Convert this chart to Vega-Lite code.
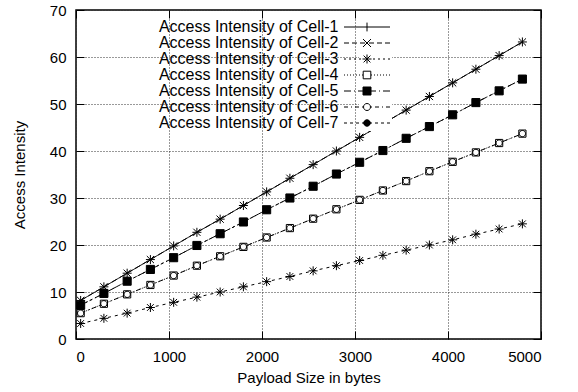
{
  "$schema": "https://vega.github.io/schema/vega-lite/v6.json",
  "width": 465,
  "height": 329,
  "autosize": {"type": "none"},
  "padding": {"left": 76, "top": 10, "right": 37, "bottom": 53},
  "background": "white",
  "config": {
    "font": "Liberation Sans",
    "view": {"stroke": "black", "strokeWidth": 1.5},
    "axis": {
      "labelFont": "Liberation Sans",
      "labelFontSize": 15,
      "labelColor": "black",
      "titleFont": "Liberation Sans",
      "titleFontSize": 15,
      "titleFontWeight": "normal",
      "titleColor": "black",
      "domain": false,
      "tickColor": "black",
      "tickSize": -8,
      "tickWidth": 1,
      "gridColor": "#333333",
      "gridDash": [1, 2],
      "gridWidth": 1,
      "gridOpacity": 1,
      "format": "d"
    }
  },
  "data": {
    "values": [
      {"bytes": 50, "Cell-1": 8.2, "Cell-2": 8.2, "Cell-3": 3.3, "Cell-4": 5.5, "Cell-5": 7.2, "Cell-6": 5.5, "Cell-7": 7.2},
      {"bytes": 300, "Cell-1": 11.1, "Cell-2": 11.1, "Cell-3": 4.4, "Cell-4": 7.5, "Cell-5": 9.7, "Cell-6": 7.5, "Cell-7": 9.7},
      {"bytes": 550, "Cell-1": 14.0, "Cell-2": 14.0, "Cell-3": 5.5, "Cell-4": 9.5, "Cell-5": 12.3, "Cell-6": 9.5, "Cell-7": 12.3},
      {"bytes": 800, "Cell-1": 16.9, "Cell-2": 16.9, "Cell-3": 6.7, "Cell-4": 11.5, "Cell-5": 14.8, "Cell-6": 11.5, "Cell-7": 14.8},
      {"bytes": 1050, "Cell-1": 19.8, "Cell-2": 19.8, "Cell-3": 7.8, "Cell-4": 13.5, "Cell-5": 17.3, "Cell-6": 13.5, "Cell-7": 17.3},
      {"bytes": 1300, "Cell-1": 22.7, "Cell-2": 22.7, "Cell-3": 8.9, "Cell-4": 15.6, "Cell-5": 19.9, "Cell-6": 15.6, "Cell-7": 19.9},
      {"bytes": 1550, "Cell-1": 25.5, "Cell-2": 25.5, "Cell-3": 10.0, "Cell-4": 17.6, "Cell-5": 22.4, "Cell-6": 17.6, "Cell-7": 22.4},
      {"bytes": 1800, "Cell-1": 28.4, "Cell-2": 28.4, "Cell-3": 11.1, "Cell-4": 19.6, "Cell-5": 24.9, "Cell-6": 19.6, "Cell-7": 24.9},
      {"bytes": 2050, "Cell-1": 31.3, "Cell-2": 31.3, "Cell-3": 12.2, "Cell-4": 21.6, "Cell-5": 27.5, "Cell-6": 21.6, "Cell-7": 27.5},
      {"bytes": 2300, "Cell-1": 34.2, "Cell-2": 34.2, "Cell-3": 13.3, "Cell-4": 23.6, "Cell-5": 30.0, "Cell-6": 23.6, "Cell-7": 30.0},
      {"bytes": 2550, "Cell-1": 37.1, "Cell-2": 37.1, "Cell-3": 14.5, "Cell-4": 25.6, "Cell-5": 32.5, "Cell-6": 25.6, "Cell-7": 32.5},
      {"bytes": 2800, "Cell-1": 40.0, "Cell-2": 40.0, "Cell-3": 15.6, "Cell-4": 27.6, "Cell-5": 35.1, "Cell-6": 27.6, "Cell-7": 35.1},
      {"bytes": 3050, "Cell-1": 42.9, "Cell-2": 42.9, "Cell-3": 16.7, "Cell-4": 29.6, "Cell-5": 37.6, "Cell-6": 29.6, "Cell-7": 37.6},
      {"bytes": 3300, "Cell-1": 45.8, "Cell-2": 45.8, "Cell-3": 17.8, "Cell-4": 31.6, "Cell-5": 40.1, "Cell-6": 31.6, "Cell-7": 40.1},
      {"bytes": 3550, "Cell-1": 48.7, "Cell-2": 48.7, "Cell-3": 18.9, "Cell-4": 33.6, "Cell-5": 42.7, "Cell-6": 33.6, "Cell-7": 42.7},
      {"bytes": 3800, "Cell-1": 51.6, "Cell-2": 51.6, "Cell-3": 20.0, "Cell-4": 35.7, "Cell-5": 45.2, "Cell-6": 35.7, "Cell-7": 45.2},
      {"bytes": 4050, "Cell-1": 54.5, "Cell-2": 54.5, "Cell-3": 21.1, "Cell-4": 37.7, "Cell-5": 47.7, "Cell-6": 37.7, "Cell-7": 47.7},
      {"bytes": 4300, "Cell-1": 57.4, "Cell-2": 57.4, "Cell-3": 22.3, "Cell-4": 39.7, "Cell-5": 50.3, "Cell-6": 39.7, "Cell-7": 50.3},
      {"bytes": 4550, "Cell-1": 60.3, "Cell-2": 60.3, "Cell-3": 23.4, "Cell-4": 41.7, "Cell-5": 52.8, "Cell-6": 41.7, "Cell-7": 52.8},
      {"bytes": 4800, "Cell-1": 63.2, "Cell-2": 63.2, "Cell-3": 24.5, "Cell-4": 43.7, "Cell-5": 55.3, "Cell-6": 43.7, "Cell-7": 55.3}
    ]
  },
  "transform": [
    {"fold": ["Cell-1", "Cell-2", "Cell-3", "Cell-4", "Cell-5", "Cell-6", "Cell-7"], "as": ["series", "intensity"]}
  ],
  "layer": [
    {
      "mark": {"type": "line", "color": "black", "strokeWidth": 1},
      "encoding": {
        "x": {
          "field": "bytes", "type": "quantitative",
          "scale": {"domain": [0, 5000], "nice": false, "zero": false},
          "axis": {"orient": "bottom", "values": [0, 1000, 2000, 3000, 4000, 5000], "grid": true, "labelPadding": 18, "title": "Payload Size in bytes", "titlePadding": 6}
        },
        "y": {
          "field": "intensity", "type": "quantitative",
          "scale": {"domain": [0, 70], "nice": false},
          "axis": {"orient": "left", "values": [0, 10, 20, 30, 40, 50, 60, 70], "grid": true, "labelPadding": 18, "title": "Access Intensity", "titlePadding": 22}
        },
        "strokeDash": {
          "field": "series", "type": "nominal", "legend": null,
          "scale": {
            "domain": ["Cell-1", "Cell-2", "Cell-3", "Cell-4", "Cell-5", "Cell-6", "Cell-7"],
            "range": [[1, 0], [6, 3], [3, 4], [1, 2], [8, 3, 2, 3], [5, 3, 1, 3], [3, 3, 1, 3]]
          }
        }
      }
    },
    {
      "mark": {"type": "point", "stroke": "black", "strokeWidth": 1, "opacity": 1, "size": 81},
      "encoding": {
        "x": {
          "field": "bytes", "type": "quantitative",
          "axis": {"orient": "top", "values": [0, 1000, 2000, 3000, 4000, 5000], "grid": false, "labels": false, "title": null}
        },
        "y": {
          "field": "intensity", "type": "quantitative",
          "axis": {"orient": "right", "values": [0, 10, 20, 30, 40, 50, 60, 70], "grid": false, "labels": false, "title": null}
        },
        "shape": {
          "field": "series", "type": "nominal", "legend": null,
          "scale": {
            "domain": ["Cell-1", "Cell-2", "Cell-3", "Cell-4", "Cell-5", "Cell-6", "Cell-7"],
            "range": [
              "M-1,0H1M0,-1V1",
              "M-0.8,-0.8L0.8,0.8M-0.8,0.8L0.8,-0.8",
              "M-1,0H1M0,-1V1M-0.75,-0.75L0.75,0.75M-0.75,0.75L0.75,-0.75",
              "M-0.8,-0.8H0.8V0.8H-0.8Z",
              "M-0.9,-0.9H0.9V0.9H-0.9Z",
              "M0.7,0A0.7,0.7 0 1,1 -0.7,0A0.7,0.7 0 1,1 0.7,0Z",
              "M0.7,0A0.7,0.7 0 1,1 -0.7,0A0.7,0.7 0 1,1 0.7,0Z"
            ]
          }
        },
        "fill": {
          "field": "series", "type": "nominal", "legend": null,
          "scale": {
            "domain": ["Cell-1", "Cell-2", "Cell-3", "Cell-4", "Cell-5", "Cell-6", "Cell-7"],
            "range": ["transparent", "transparent", "transparent", "white", "black", "transparent", "black"]
          }
        }
      }
    },
    {
      "mark": {"type": "point", "opacity": 0, "size": 64},
      "encoding": {
        "x": {"field": "bytes", "type": "quantitative", "axis": null},
        "y": {"field": "intensity", "type": "quantitative", "axis": null},
        "shape": {
          "field": "series", "type": "nominal",
          "scale": {
            "domain": ["Cell-1", "Cell-2", "Cell-3", "Cell-4", "Cell-5", "Cell-6", "Cell-7"],
            "range": [
              "M-68,0M-5.75,0H5.75M0,-1.1V1.1",
              "M-5.75,0H-4.5M-3.75,0H-2.5M-1.75,0H-0.5M0.5,0H1.75M2.5,0H3.75M4.5,0H5.75M-1,-1L1,1M-1,1L1,-1",
              "M-5.75,0H-5.25M-4.5,0H-4M-3.25,0H-2.75M-2,0H-1.5M1.5,0H2M2.75,0H3.25M4,0H4.5M5.25,0H5.75M-1.125,0H1.125M0,-1.125V1.125M-0.85,-0.85L0.85,0.85M-0.85,0.85L0.85,-0.85",
              "M-5.75,0h0.25M-5,0h0.25M-4.25,0h0.25M-3.5,0h0.25M-2.75,0h0.25M-2,0h0.25M-1.25,0h0.25M1,0h0.25M1.75,0h0.25M2.5,0h0.25M3.25,0h0.25M4,0h0.25M4.75,0h0.25M5.5,0h0.25M-0.95,-0.95H0.95V0.95H-0.95Z",
              "M-5.75,0H-4M-3.25,0H-3M-2.25,0H2.25M3,0H3.25M4,0H5.75M-1,-1H1V1H-1ZM-0.875,-1V1M-0.75,-1V1M-0.625,-1V1M-0.5,-1V1M-0.375,-1V1M-0.25,-1V1M-0.125,-1V1M0,-1V1M0.125,-1V1M0.25,-1V1M0.375,-1V1M0.5,-1V1M0.625,-1V1M0.75,-1V1M0.875,-1V1",
              "M-5.75,0H-4.75M-4,0H-3.75M-3,0H-2M-1.25,0H-1M1,0H1.25M2,0H3M3.75,0H4M4.75,0H5.75M0.875,0A0.875,0.875 0 1,1 -0.875,0A0.875,0.875 0 1,1 0.875,0Z",
              "M-5.75,0H-5M-4.25,0H-3.5M-2.75,0H-2M-1.25,0H-0.5M0.5,0H1.25M2,0H2.75M3.5,0H4.25M5,0H5.75M0.8,0A0.8,0.8 0 1,1 -0.8,0A0.8,0.8 0 1,1 0.8,0ZM-0.75,-0.28V0.28M-0.625,-0.5V0.5M-0.5,-0.62V0.62M-0.375,-0.7V0.7M-0.25,-0.76V0.76M-0.125,-0.79V0.79M0,-0.8V0.8M0.125,-0.79V0.79M0.25,-0.76V0.76M0.375,-0.7V0.7M0.5,-0.62V0.62M0.625,-0.5V0.5M0.75,-0.28V0.28"
            ]
          },
          "legend": {
            "orient": "none",
            "legendX": 283,
            "legendY": 9,
            "title": null,
            "padding": 0,
            "fillColor": "white",
            "strokeColor": null,
            "symbolSize": 64,
            "symbolStrokeWidth": 1,
            "symbolStrokeColor": "black",
            "symbolOpacity": 1,
            "rowPadding": -2.2,
            "labelFont": "Liberation Sans",
            "labelFontSize": 16,
            "labelColor": "black",
            "labelAlign": "right",
            "labelOffset": -36.5,
            "labelLimit": 400,
            "labelExpr": "'Access Intensity of ' + datum.label",
            "encode": {
              "symbols": {
                "stroke": {"value": "black"},
                "strokeWidth": {"value": 1},
                "opacity": {"value": 1}
              }
            }
          }
        }
      }
    }
  ],
  "resolve": {
    "scale": {"shape": "independent"},
    "axis": {"x": "independent", "y": "independent"}
  }
}
